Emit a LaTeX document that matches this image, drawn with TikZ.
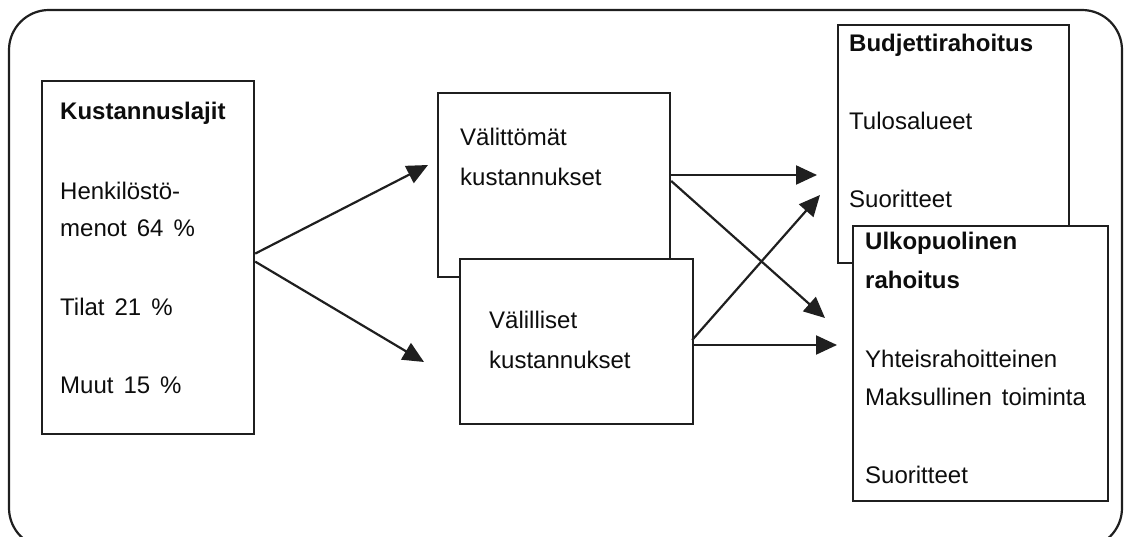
\documentclass[tikz,border=0pt]{standalone}
\usepackage{fontspec}
\setmainfont{Liberation Sans}
\usetikzlibrary{arrows.meta}
\newcommand{\wsp}{\hspace{10pt}}
\begin{document}
\begin{tikzpicture}[x=1pt,y=-1pt,
  frame/.style={draw=black!88,line width=2.2pt,rounded corners=40pt},
  box/.style={draw=black!88,line width=2.2pt,fill=white,rectangle,inner sep=0pt,anchor=north west},
  txt/.style={anchor=base west,inner sep=0pt,font=\fontsize{24}{28}\selectfont,text=black!95},
  head/.style={txt,font=\fontsize{24}{28}\selectfont\bfseries},
  link/.style={draw=black!88,line width=2.2pt,-{Triangle[length=21pt,width=19pt]}}]
\useasboundingbox (0,0) rectangle (1124,537);
\draw[frame] (9,10) rectangle (1122,548);

% cost types
\node[box,minimum width=212pt,minimum height=353pt] (kl) at (41,80) {};
\node[head] (klh) at (60,120) {Kustannuslajit};
\node[txt] (kl1) at (60,200) {Henkilöstö-};
\node[txt] (kl2) at (60,237) {menot\wsp 64\wsp \%};
\node[txt] (kl3) at (60,315) {Tilat\wsp 21\wsp \%};
\node[txt] (kl4) at (60,393) {Muut\wsp 15\wsp \%};

% direct and indirect costs
\node[box,minimum width=232pt,minimum height=184pt] (vt) at (437,92) {};
\node[txt] (vt1) at (460,146) {Välittömät};
\node[txt] (vt2) at (460,186) {kustannukset};
\node[box,minimum width=233pt,minimum height=165pt] (vl) at (459,258) {};
\node[txt] (vl1) at (489,328) {Välilliset};
\node[txt] (vl2) at (489,368) {kustannukset};

% funding
\node[box,minimum width=231pt,minimum height=238pt] (br) at (837,24) {};
\node[head] (brh) at (849,52) {Budjettirahoitus};
\node[txt] (br1) at (849,130) {Tulosalueet};
\node[txt] (br2) at (849,208) {Suoritteet};
\node[box,minimum width=255pt,minimum height=275pt] (ur) at (852,225) {};
\node[head] (urh1) at (865,250) {Ulkopuolinen};
\node[head] (urh2) at (865,288) {rahoitus};
\node[txt] (ur1) at (865,367) {Yhteisrahoitteinen};
\node[txt] (ur2) at (865,405) {Maksullinen\wsp toiminta};
\node[txt] (ur3) at (865,483) {Suoritteet};

% arrow ends
\coordinate (a1) at (428,165);
\coordinate (a2) at (424,362);
\coordinate (b1) at (817,175);
\coordinate (b2) at (825,318);
\coordinate (c1) at (820,195);
\coordinate (c2) at (837,345);

\draw[link] ([yshift=4pt]kl.east) -- (a1);
\draw[link] ([yshift=-4pt]kl.east) -- (a2);
\draw[link] (vt.east |- b1) -- (b1);
\draw[link] ([yshift=-6pt]vt.east |- b1) -- (b2);
\draw[link] ([xshift=-2pt,yshift=5pt]vl.east |- c2) -- (c1);
\draw[link] (vl.east |- c2) -- (c2);
\end{tikzpicture}
\end{document}
